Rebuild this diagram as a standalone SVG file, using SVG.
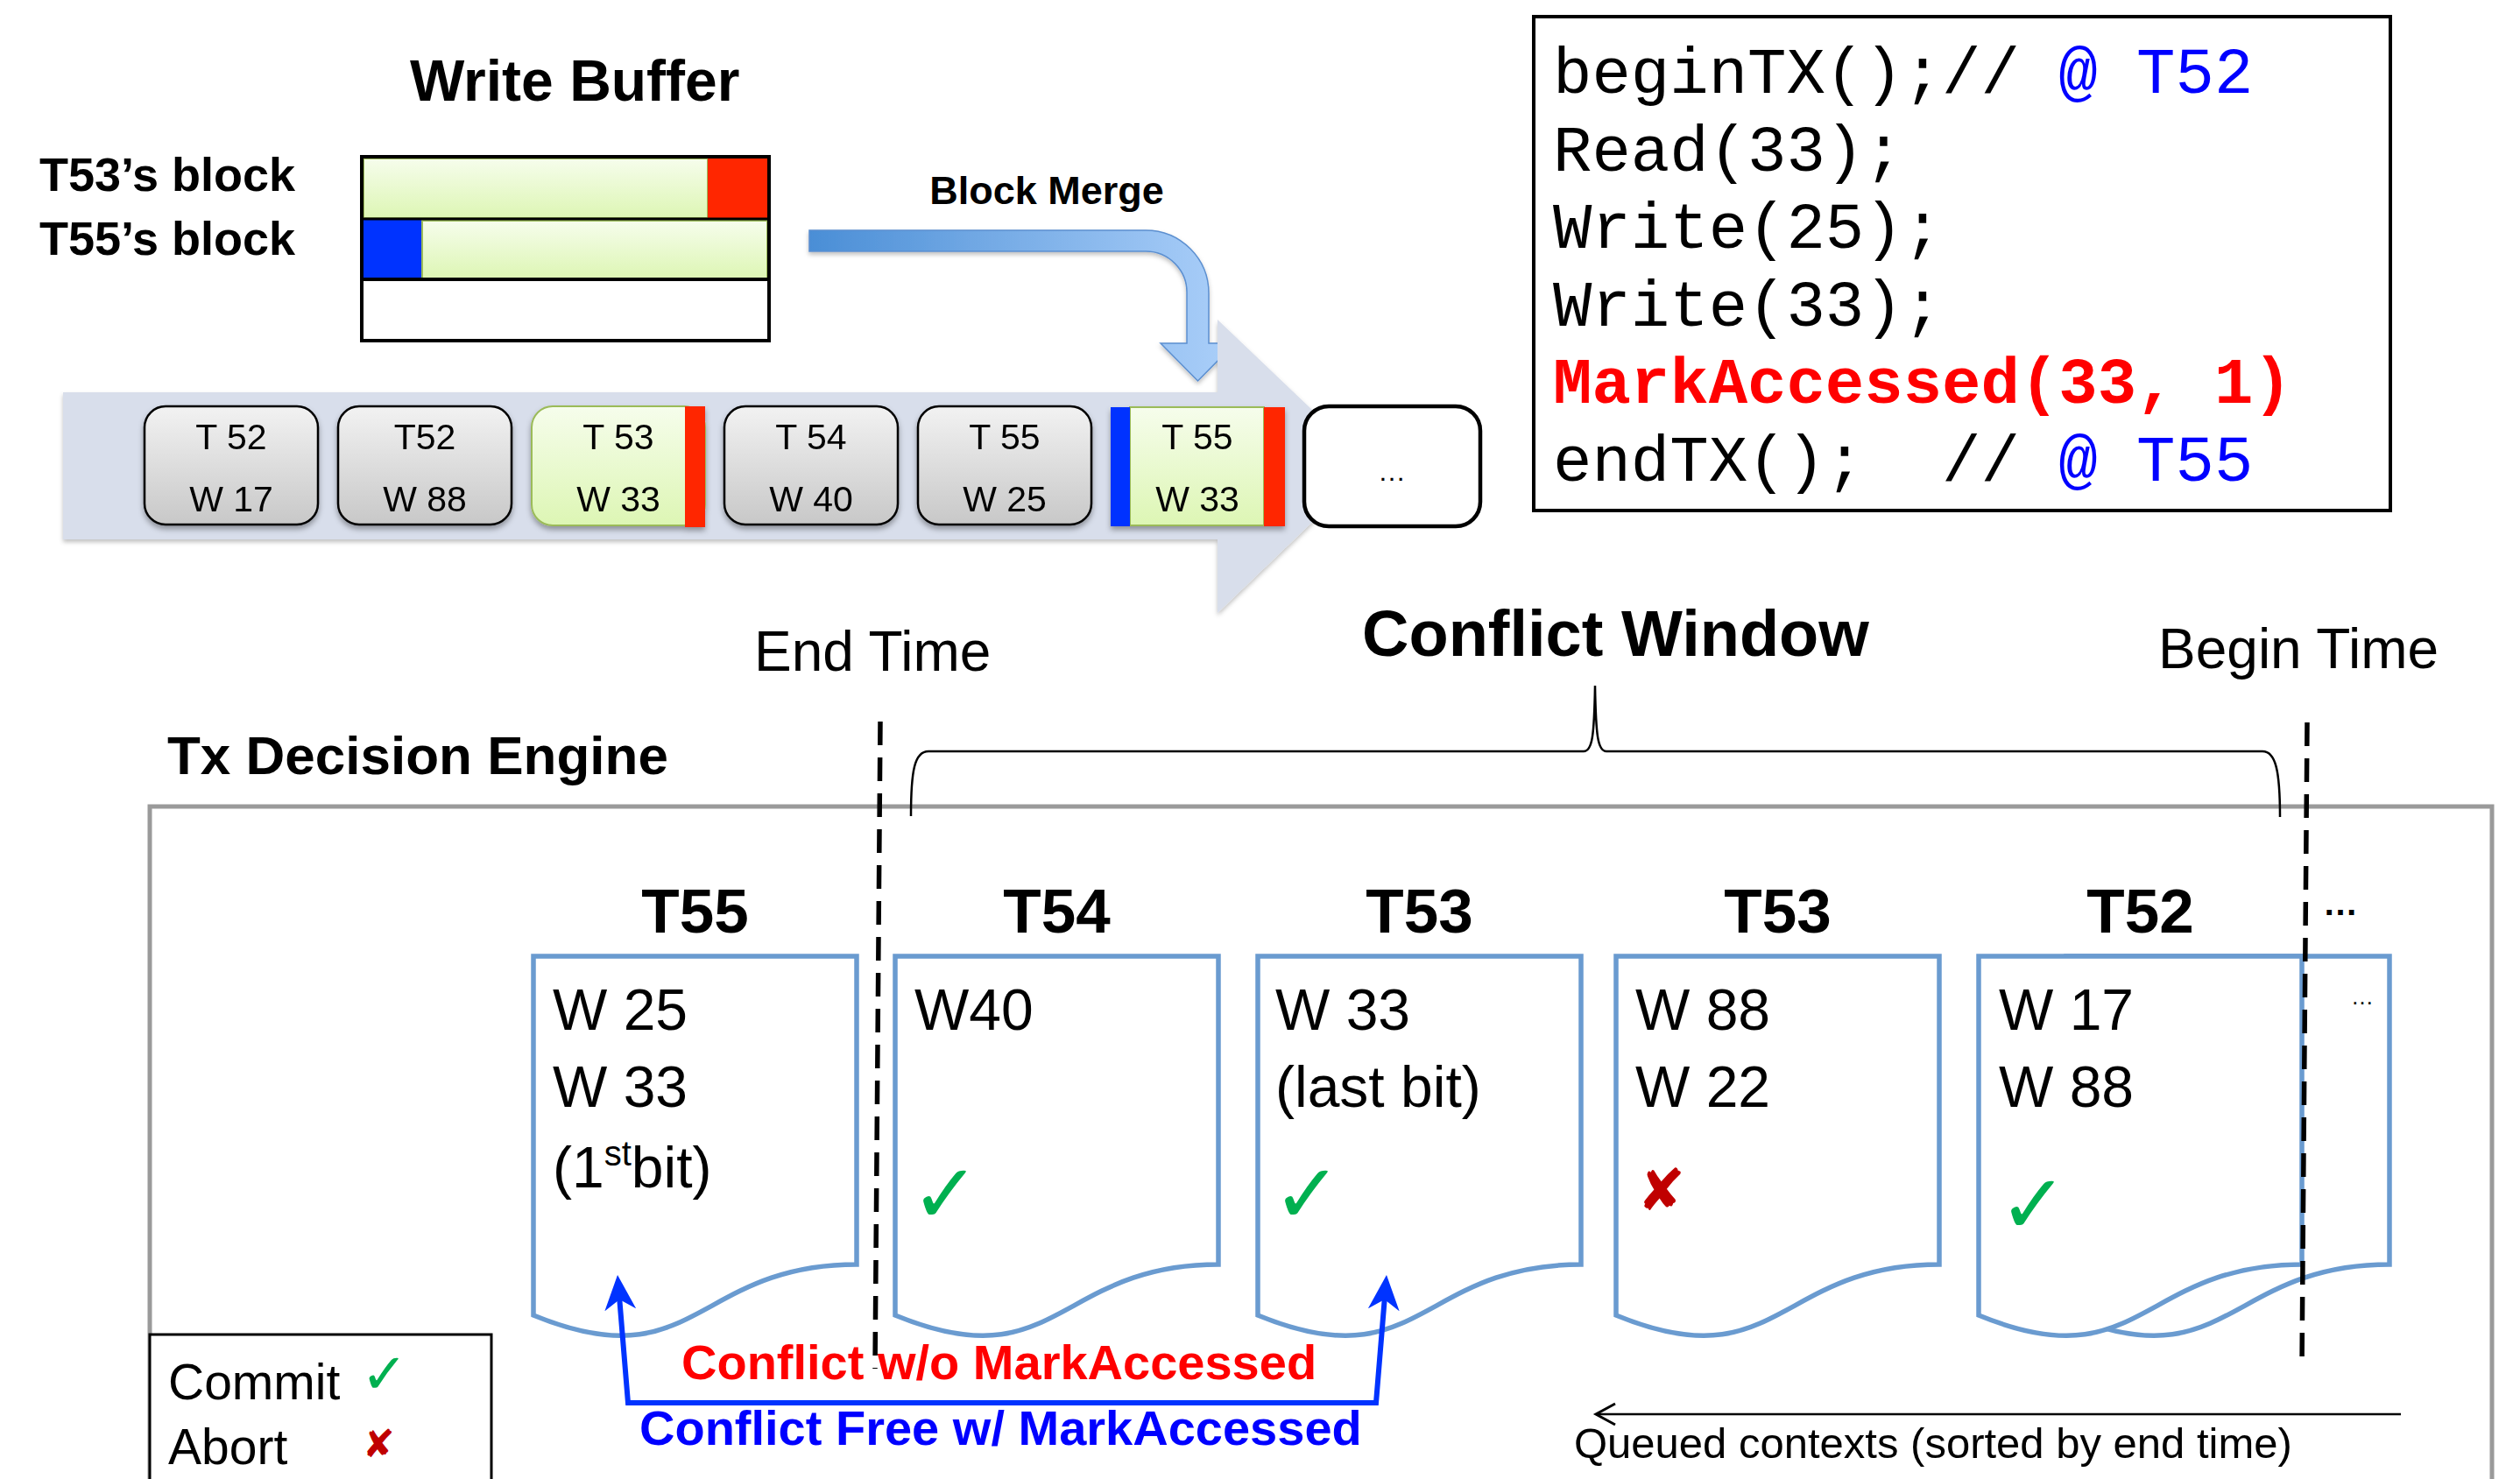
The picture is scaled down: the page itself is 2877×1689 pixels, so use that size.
<svg xmlns="http://www.w3.org/2000/svg" width="2877" height="1689" viewBox="0 0 2877 1689">
<defs>
<style>
.sb{font-family:"Liberation Sans",Arial,sans-serif;font-weight:bold;fill:#000}
.sr{font-family:"Liberation Sans",Arial,sans-serif;fill:#000}
.mono{font-family:"Liberation Mono","Courier New",monospace;font-size:74px;fill:#000}
.gbox{fill:url(#gGray);stroke:#000;stroke-width:2.5}
.grn{fill:url(#gGreen);stroke:#9bbb59;stroke-width:2}
.red{fill:#ff2600}
.blu{fill:#0033ff}
.bt{font-size:41px;text-anchor:middle}
.doc{fill:#fff;stroke:#6a9bd0;stroke-width:5.5}
.dt{font-size:66px}
.ttl{font-size:71px;text-anchor:middle}
.chk{font-family:"DejaVu Sans",sans-serif;fill:#00b050}
.xm{font-family:"DejaVu Sans",sans-serif;fill:#c00000}
.dash{stroke:#000;stroke-width:5.5;stroke-dasharray:27 14;fill:none}
</style>
<linearGradient id="gGray" x1="0" y1="0" x2="0" y2="1"><stop offset="0" stop-color="#f2f2f2"/><stop offset="1" stop-color="#c8c8c8"/></linearGradient>
<linearGradient id="gGreen" x1="0" y1="0" x2="0" y2="1"><stop offset="0" stop-color="#f6fdec"/><stop offset="1" stop-color="#ddf6b4"/></linearGradient>
<linearGradient id="gMerge" gradientUnits="userSpaceOnUse" x1="924" y1="0" x2="1390" y2="0"><stop offset="0" stop-color="#4a8ed6"/><stop offset="1" stop-color="#a8cdf8"/></linearGradient>
<filter id="sh" x="-10%" y="-10%" width="120%" height="130%"><feDropShadow dx="0" dy="4" stdDeviation="3" flood-color="#000" flood-opacity="0.35"/></filter>
<filter id="sh2" x="-5%" y="-10%" width="110%" height="130%"><feDropShadow dx="0" dy="3" stdDeviation="2.5" flood-color="#000" flood-opacity="0.25"/></filter>
<clipPath id="mergeClip"><rect x="0" y="0" width="1390" height="460"/></clipPath>
<marker id="ah" markerUnits="userSpaceOnUse" viewBox="0 0 40 36" markerWidth="40" markerHeight="36" refX="28" refY="18" orient="auto-start-reverse"><path d="M0 0 L40 18 L0 36 L12 18 Z" fill="#0033ff"/></marker>
</defs>
<rect width="2877" height="1689" fill="#fff"/>

<g id="write-buffer">
<text class="sb" x="468" y="115" font-size="66">Write Buffer</text>
<text class="sb" x="45" y="218" font-size="54">T53’s block</text>
<text class="sb" x="45" y="291" font-size="54">T55’s block</text>
<rect class="grn" x="415" y="181" width="393" height="68"/>
<rect class="red" x="808" y="180" width="69" height="70"/>
<rect class="blu" x="414" y="250" width="68" height="69"/>
<rect class="grn" x="482" y="252" width="394" height="66"/>
<line x1="413" y1="250" x2="878" y2="250" stroke="#000" stroke-width="3"/>
<line x1="413" y1="319" x2="878" y2="319" stroke="#000" stroke-width="4"/>
<rect x="413" y="179" width="465" height="210" fill="none" stroke="#000" stroke-width="4"/>
</g>

<g id="block-merge-label">
<text class="sb" x="1195" y="233" font-size="45" text-anchor="middle">Block Merge</text>
</g>

<g id="timeline">
<path d="M72 448 L1390 448 L1390 365 L1565 532 L1390 700 L1390 616 L72 616 Z" fill="#d8deeb" filter="url(#sh2)"/>
</g>

<g id="box-t52-w17" filter="url(#sh)">
<rect class="gbox" x="165" y="464" width="198" height="135" rx="24"/>
<text class="sr bt" x="264" y="513">T 52</text><text class="sr bt" x="264" y="584">W 17</text>
</g>
<g id="box-t52-w88" filter="url(#sh)">
<rect class="gbox" x="386" y="464" width="198" height="135" rx="24"/>
<text class="sr bt" x="485" y="513">T52</text><text class="sr bt" x="485" y="584">W 88</text>
</g>
<g id="box-t53-w33" filter="url(#sh)">
<rect class="grn" x="607" y="464" width="198" height="136" rx="24"/>
<rect class="red" x="782" y="464" width="23" height="138"/>
<text class="sr bt" x="706" y="513">T 53</text><text class="sr bt" x="706" y="584">W 33</text>
</g>
<g id="box-t54-w40" filter="url(#sh)">
<rect class="gbox" x="827" y="464" width="198" height="135" rx="24"/>
<text class="sr bt" x="926" y="513">T 54</text><text class="sr bt" x="926" y="584">W 40</text>
</g>
<g id="box-t55-w25" filter="url(#sh)">
<rect class="gbox" x="1048" y="464" width="198" height="135" rx="24"/>
<text class="sr bt" x="1147" y="513">T 55</text><text class="sr bt" x="1147" y="584">W 25</text>
</g>
<g id="box-t55-w33" filter="url(#sh)">
<rect class="grn" x="1290" y="465" width="153" height="135"/>
<rect class="blu" x="1268" y="465" width="22" height="136"/>
<rect class="red" x="1443" y="465" width="24" height="136"/>
<text class="sr bt" x="1367" y="513">T 55</text><text class="sr bt" x="1367" y="584">W 33</text>
</g>
<g id="box-more">
<rect x="1489" y="464" width="201" height="137" rx="28" fill="#fff" stroke="#000" stroke-width="4.5"/>
<text class="sr" x="1589" y="549" font-size="32" text-anchor="middle">…</text>
</g>

<g id="code-box">
<rect x="1751" y="19" width="978" height="564" fill="#fff" stroke="#000" stroke-width="4"/>
<text class="mono" x="1773" y="106" xml:space="preserve">beginTX();//<tspan fill="#0000ff"> @ T52</tspan></text>
<text class="mono" x="1773" y="195">Read(33);</text>
<text class="mono" x="1773" y="283">Write(25);</text>
<text class="mono" x="1773" y="372">Write(33);</text>
<text class="mono" x="1773" y="460" font-weight="bold" fill="#ff0000" style="fill:#ff0000">MarkAccessed(33, 1)</text>
<text class="mono" x="1773" y="549" xml:space="preserve">endTX();  //<tspan fill="#0000ff"> @ T55</tspan></text>
</g>

<g id="labels">
<text class="sr" x="861" y="766" font-size="64">End Time</text>
<text class="sb" x="1555" y="749" font-size="74">Conflict Window</text>
<text class="sr" x="2464" y="763" font-size="64">Begin Time</text>
<text class="sb" x="191" y="884" font-size="62">Tx Decision Engine</text>
</g>

<g id="engine">
<rect x="171" y="921" width="2674" height="900" fill="none" stroke="#9a9a9a" stroke-width="5"/>
</g>

<g id="conflict-window-brace">
<path d="M1040 932 C1040 880 1044 858 1060 858 L1808 858 C1818 858 1820 840 1821 783 C1822 840 1824 858 1834 858 L2583 858 C2598 858 2603 880 2603 933" fill="none" stroke="#000" stroke-width="2.5"/>
</g>

<g id="doc-more">
<path class="doc" d="M2359 1092 L2728 1092 L2728 1444 C2543.5 1444 2543.5 1578 2359 1502 Z"/>
<text class="sr" x="2684" y="1147" font-size="26">…</text>
</g>
<g id="doc-t55">
<text class="sb ttl" x="793.5" y="1065">T55</text>
<path class="doc" d="M609 1092 L978 1092 L978 1444 C793.5 1444 793.5 1578 609 1502 Z"/>
<text class="sr dt" x="631" y="1176">W 25</text>
<text class="sr dt" x="631" y="1264">W 33</text>
<text class="sr dt" x="631" y="1356">(1<tspan font-size="40" dy="-25">st</tspan><tspan dy="25">bit)</tspan></text>
</g>
<g id="doc-t54">
<text class="sb ttl" x="1206.5" y="1065">T54</text>
<path class="doc" d="M1022 1092 L1391 1092 L1391 1444 C1206.5 1444 1206.5 1578 1022 1502 Z"/>
<text class="sr dt" x="1044" y="1176">W40</text>
<text class="chk" x="1040" y="1396" font-size="94">✓</text>
</g>
<g id="doc-t53a">
<text class="sb ttl" x="1620.5" y="1065">T53</text>
<path class="doc" d="M1436 1092 L1805 1092 L1805 1444 C1620.5 1444 1620.5 1578 1436 1502 Z"/>
<text class="sr dt" x="1456" y="1176">W 33</text>
<text class="sr dt" x="1456" y="1264">(last bit)</text>
<text class="chk" x="1453" y="1396" font-size="94">✓</text>
</g>
<g id="doc-t53b">
<text class="sb ttl" x="2029.5" y="1065">T53</text>
<path class="doc" d="M1845 1092 L2214 1092 L2214 1444 C2029.5 1444 2029.5 1578 1845 1502 Z"/>
<text class="sr dt" x="1867" y="1176">W 88</text>
<text class="sr dt" x="1867" y="1264">W 22</text>
<text class="xm" x="1869" y="1382" font-size="66">✘</text>
</g>
<g id="doc-t52">
<text class="sb ttl" x="2443.5" y="1065">T52</text>
<path class="doc" d="M2259 1092 L2628 1092 L2628 1444 C2443.5 1444 2443.5 1578 2259 1502 Z"/>
<text class="sr dt" x="2282" y="1176">W 17</text>
<text class="sr dt" x="2282" y="1264">W 88</text>
<text class="chk" x="2282" y="1408" font-size="94">✓</text>
<text class="sb" x="2652" y="1045" font-size="40">…</text>
</g>

<g id="time-markers">
<path class="dash" d="M1005 824 L999 1563"/>
<path class="dash" d="M2634 825 L2628 1562"/>
</g>

<g id="legend">
<rect x="171" y="1524" width="390" height="200" fill="#fff" stroke="#000" stroke-width="3"/>
<text class="sr" x="192" y="1598" font-size="57">Commit</text>
<text class="chk" x="412" y="1591" font-size="64">✓</text>
<text class="sr" x="192" y="1672" font-size="57">Abort</text>
<text class="xm" x="414" y="1664" font-size="44">✘</text>
</g>

<g id="connectors">
<path d="M924 263 L1308 263 A72 72 0 0 1 1380 335 L1380 392 L1410 392 L1367.5 435 L1325 392 L1355 392 L1355 335 A47 47 0 0 0 1308 287 L924 287 Z" fill="url(#gMerge)" stroke="#5b8fd0" stroke-width="1.5" clip-path="url(#mergeClip)" filter="url(#sh2)"/>
<path d="M706 1468 L717 1602 L1571 1602 L1582 1468" fill="none" stroke="#0033ff" stroke-width="6" marker-start="url(#ah)" marker-end="url(#ah)"/>
<line x1="1823" y1="1615" x2="2741" y2="1615" stroke="#000" stroke-width="2.5"/>
<polyline points="1844,1603 1822,1615 1844,1627" fill="none" stroke="#000" stroke-width="3"/>
<text class="sb" x="778" y="1575" font-size="56" fill="#ff0000" style="fill:#ff0000">Conflict w/o MarkAccessed</text>
<text class="sb" x="730" y="1650" font-size="56" style="fill:#0000ff">Conflict Free w/ MarkAccessed</text>
<text class="sr" x="1797" y="1665" font-size="49">Queued contexts (sorted by end time)</text>
</g>
</svg>
